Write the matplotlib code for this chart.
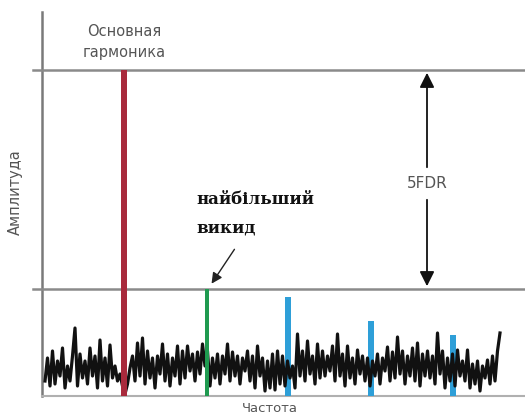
import numpy as np
import matplotlib.pyplot as plt

# Spectrum data (amplitude measured up from the baseline)
noise_amp = [15, 38, 10, 45, 12, 35, 20, 48, 8, 30, 15, 40,
             68, 10, 42, 18, 35, 12, 48, 20, 40, 8, 56, 15,
             38, 10, 51, 18, 30, 15, 22, 10, 2, 12, 28, 40,
             15, 53, 20, 58, 12, 45, 18, 38, 8, 40, 22, 52,
             15, 42, 10, 38, 20, 50, 12, 45, 18, 50, 25, 42,
             15, 44, 22, 52, 30, 45, 10, 38, 18, 42, 12, 40,
             22, 52, 15, 44, 20, 40, 12, 38, 25, 45, 15, 40,
             8, 50, 20, 38, 5, 35, 8, 42, 6, 45, 12, 40,
             10, 35, 18, 30, 8, 62, 20, 45, 15, 55, 22, 40,
             12, 52, 18, 45, 20, 40, 25, 50, 15, 62, 20, 42,
             10, 50, 18, 38, 12, 46, 22, 40, 15, 38, 10, 35,
             20, 42, 12, 38, 25, 49, 15, 44, 18, 59, 22, 45,
             12, 40, 20, 48, 15, 53, 10, 42, 20, 45, 18, 40,
             12, 63, 22, 45, 8, 38, 15, 42, 10, 46, 20, 35,
             15, 46, 8, 32, 12, 35, 5, 30, 18, 36, 12, 40,
             15, 45, 63]
noise_x = np.arange(len(noise_amp)) * 2.5 + 45

fund_x, fund_amp = 124, 326
spur_x, spur_amp = 207, 107
harm_x = [288, 371, 453]
harm_amp = [99, 75, 61]

fig = plt.figure(figsize=(5.25, 4.16), dpi=100)
ax = fig.add_axes([0, 0, 1, 1])
ax.set_xlim(0, 525)
ax.set_ylim(-20, 396)
ax.axis('off')

# axes and reference levels
ax.plot([42, 42], [0, 384], color='#7a7a7a', lw=1.8, zorder=1)
ax.plot([42, 525], [0, 0], color='#b0b0b0', lw=1.5, zorder=1)
ax.plot([33, 525], [fund_amp, fund_amp], color='#8a8a8a', lw=1.8, zorder=1)
ax.plot([33, 525], [spur_amp, spur_amp], color='#8a8a8a', lw=1.8, zorder=1)

# harmonics (under the noise)
ax.bar(harm_x, harm_amp, width=6, color='#2e9fd8', zorder=2)
# noise floor
ax.plot(noise_x, noise_amp, color='#111111', lw=2.3, zorder=3)
# fundamental and largest spur
ax.bar(fund_x, fund_amp, width=6, color='#a82a3c', zorder=4)
ax.bar(spur_x, spur_amp, width=4, color='#1f9a50', zorder=4)

# SFDR arrow
arrow = dict(arrowstyle='-|>', color='#111111', lw=1.3, mutation_scale=22)
ax.annotate('', xy=(427, fund_amp), xytext=(427, 226), arrowprops=arrow)
ax.annotate('', xy=(427, spur_amp), xytext=(427, 199), arrowprops=arrow)
ax.text(427, 212, '5FDR', ha='center', va='center', fontsize=11, color='#555555')

# labels
ax.text(124, 354, 'Основная\nгармоника', ha='center', va='center',
        fontsize=10.5, color='#555555', linespacing=1.5)
ax.text(15, 204, 'Амплитуда', rotation=90, ha='center', va='center',
        fontsize=10.5, color='#555555')
ax.text(270, -12, 'Частота', ha='center', va='center', fontsize=9.5, color='#555555')
ax.text(196, 196, 'найбільший', ha='left', va='center', fontsize=12,
        family='DejaVu Serif', fontweight='bold', color='#111111')
ax.text(196, 168, 'викид', ha='left', va='center', fontsize=12,
        family='DejaVu Serif', fontweight='bold', color='#111111')
ax.annotate('', xy=(210, spur_amp + 3), xytext=(236, 149),
            arrowprops=dict(arrowstyle='-|>', color='#222222', lw=1.0,
                            mutation_scale=16))

fig.savefig('out.png', dpi=100)
